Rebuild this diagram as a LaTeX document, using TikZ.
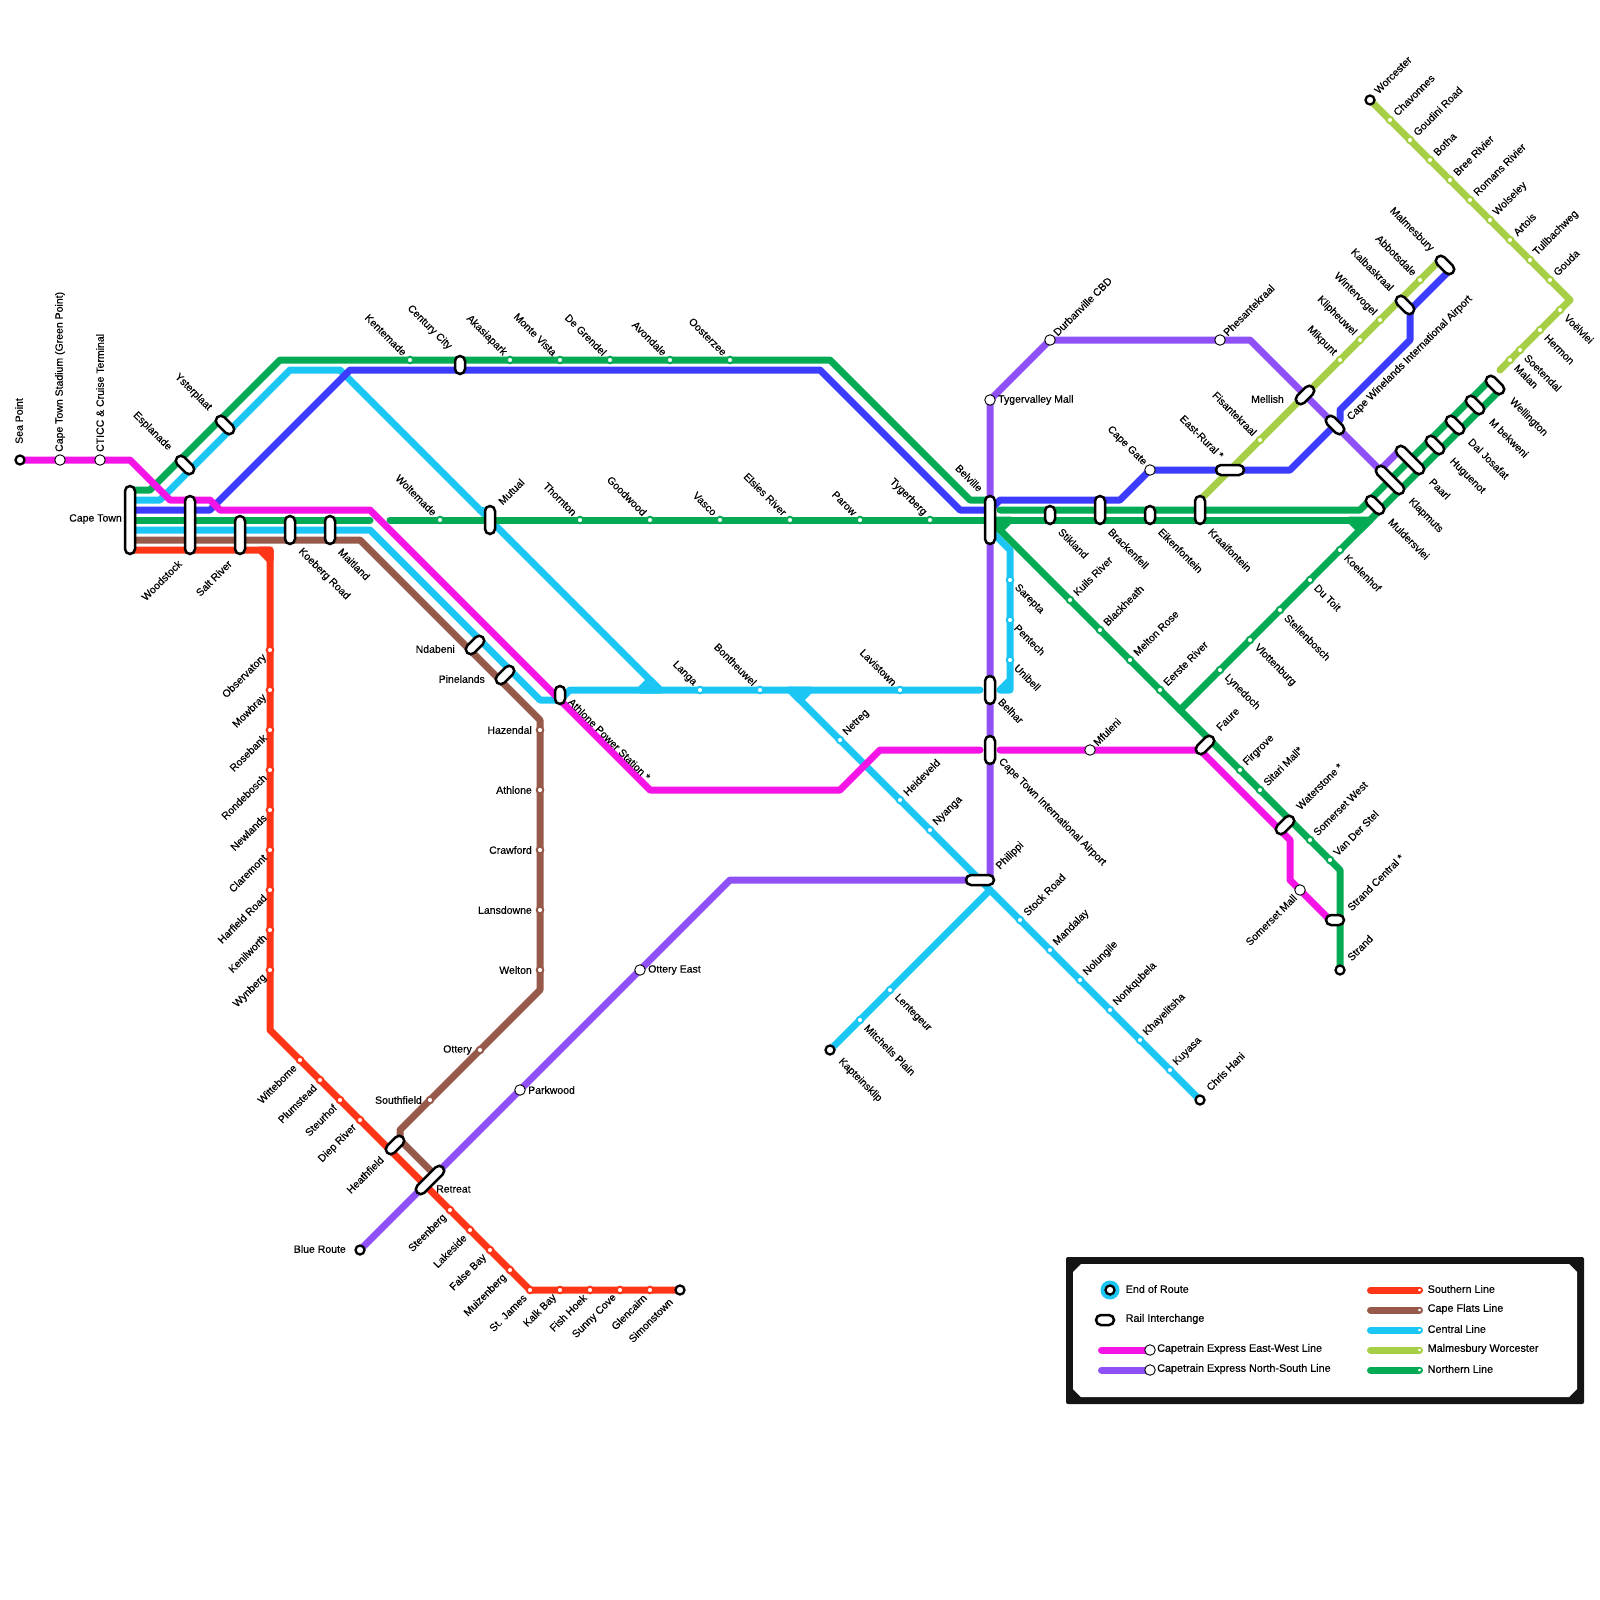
\documentclass[tikz,border=0pt]{standalone}
\usepackage{fontspec}
\usepackage{xcolor}
\usetikzlibrary{backgrounds, shapes.misc}
\newfontfamily\stnfont[FakeBold=0.4]{Liberation Sans}
\definecolor{eastwest}{HTML}{F514E6}
\definecolor{northsouth}{HTML}{8F50F5}
\definecolor{southern}{HTML}{FF3518}
\definecolor{capeflats}{HTML}{96594A}
\definecolor{central}{HTML}{1BC6F5}
\definecolor{malmesbury}{HTML}{A6CF45}
\definecolor{northern}{HTML}{04AB54}
\definecolor{capeblue}{HTML}{3C3CFF}
\tikzset{
  rail/.style={line width=7, line cap=round, line join=round, draw=#1},
  fork/.style={line width=7, line join=round, draw=#1, fill=#1},
  halt/.style={circle, draw=#1, fill=white, line width=2, minimum size=6.5, inner sep=0},
  bigstop/.style={circle, draw=black, fill=white, line width=0.9, minimum size=10.5, inner sep=0},
  endstop/.style={circle, draw=black, fill=white, line width=2.3, minimum size=9, inner sep=0},
  xchg/.style={rounded rectangle, draw=black, fill=white, line width=2.5, minimum height=10, minimum width=#1, inner sep=0},
  lab/.style={font=\stnfont\fontsize{10.5}{13}\selectfont, inner sep=0},
  legtext/.style={font=\stnfont\fontsize{10.8}{12}\selectfont, inner sep=0, anchor=west},
  rne/.style={lab, rotate=45, anchor=west},
  rse/.style={lab, rotate=-45, anchor=west},
  rnw/.style={lab, rotate=-45, anchor=east},
  rsw/.style={lab, rotate=45, anchor=east},
  re/.style={lab, anchor=west},
  rw/.style={lab, anchor=east},
  rn/.style={lab, rotate=90, anchor=west},
  labne/.style={xshift=5, yshift=6, rne},
  labse/.style={xshift=6, yshift=-6, rse},
  labnw/.style={xshift=-5, yshift=6, rnw},
  labsw/.style={xshift=-5, yshift=-6, rsw},
  labe/.style={xshift=8, re},
  labw/.style={xshift=-8, rw},
  labn/.style={yshift=8, rn}
}
\begin{document}
\begin{tikzpicture}[x=1pt, y=-1pt]
    \useasboundingbox (0,0) rectangle (1600,1600);

    % Southern Line
    \foreach \n/\x/\y/\s/\t in {observatory/270/650/labsw/Observatory, mowbray/270/690/labsw/Mowbray, rosebank/270/730/labsw/Rosebank, rondebosch/270/770/labsw/Rondebosch, newlands/270/810/labsw/Newlands, claremont/270/850/labsw/Claremont, harfield/270/890/labsw/Harfield Road, kenilworth/270/930/labsw/Kenilworth, wynberg/270/970/labsw/Wynberg, wittebome/300/1060/labsw/Wittebome, plumstead/320/1080/labsw/Plumstead, steurhof/340/1100/labsw/Steurhof, dieprivier/360/1120/labsw/Diep River, steenberg/450/1210/labsw/Steenberg, lakeside/470/1230/labsw/Lakeside, falsebay/490/1250/labsw/False Bay, muizenberg/510/1270/labsw/Muizenberg, stjames/530/1290/labsw/St. James, kalkbay/560/1290/labsw/Kalk Bay, fishhoek/590/1290/labsw/Fish Hoek, sunnycove/620/1290/labsw/Sunny Cove, glencairn/650/1290/labsw/Glencairn}
        {\node[halt=southern] (\n) at (\x,\y) {}; \node[\s] (\n-t) at (\n.center) {\t};}

    % Cape Flats Line
    \foreach \n/\x/\y/\s/\t in {hazendal/540/730/labw/Hazendal, athlone/540/790/labw/Athlone, crawford/540/850/labw/Crawford, lansdowne/540/910/labw/Lansdowne, welton/540/970/labw/Welton, ottery/480/1050/labw/Ottery, southfield/430/1100/labw/Southfield}
        {\node[halt=capeflats] (\n) at (\x,\y) {}; \node[\s] (\n-t) at (\n.center) {\t};}

    % Central Line
    \foreach \n/\x/\y/\s/\t in {langa/700/690/labnw/Langa, bontheuwel/760/690/labnw/Bontheuwel, lavistown/900/690/labnw/Lavistown, netreg/840/740/labne/Netreg, heideveld/900/800/labne/Heideveld, nyanga/930/830/labne/Nyanga, stockroad/1020/920/labne/Stock Road, mandalay/1050/950/labne/Mandalay, nolungile/1080/980/labne/Nolungile, nonkqubela/1110/1010/labne/Nonkqubela, khayelitsha/1140/1040/labne/Khayelitsha, kuyasa/1170/1070/labne/Kuyasa, lentegeur/890/990/labse/Lentegeur, mitchells/860/1020/labse/Mitchells Plain, sarepta/1010/580/labse/Sarepta, pentech/1010/620/labse/Pentech, unibell/1010/660/labse/Unibell}
        {\node[halt=central] (\n) at (\x,\y) {}; \node[\s] (\n-t) at (\n.center) {\t};}

    % Northern Line
    \foreach \n/\x/\y/\s/\t in {kentemade/410/360/labnw/Kentemade, akasiapark/510/360/labnw/Akasiapark, montevista/560/360/labnw/Monte Vista, degrendel/610/360/labnw/De Grendel, avondale/670/360/labnw/Avondale, oosterzee/730/360/labnw/Oosterzee, woltemade/440/520/labnw/Woltemade, thornton/580/520/labnw/Thornton, goodwood/650/520/labnw/Goodwood, vasco/720/520/labnw/Vasco, elsies/790/520/labnw/Elsies River, parow/860/520/labnw/Parow, tygerberg/930/520/labnw/Tygerberg, kuilsriver/1070/600/labne/Kuils River, blackheath/1100/630/labne/Blackheath, meltonrose/1130/660/labne/Melton Rose, eersteriver/1160/690/labne/Eerste River, firgrove/1240/770/labne/Firgrove, sitarimall/1260/790/labne/Sitari Mall*, somersetwest/1310/840/labne/Somerset West, vanderstel/1330/860/labne/Van Der Stel, lynedoch/1220/670/labse/Lynedoch, vlottenburg/1250/640/labse/Vlottenburg, stellenbosch/1280/610/labse/Stellenbosch, dutoit/1310/580/labse/Du Toit, koelenhof/1340/550/labse/Koelenhof}
        {\node[halt=northern] (\n) at (\x,\y) {}; \node[\s] (\n-t) at (\n.center) {\t};}

    % Malmesbury Worcester
    \foreach \n/\x/\y/\s/\t in {chavonnes/1390/120/labne/Chavonnes, goudini/1410/140/labne/Goudini Road, botha/1430/160/labne/Botha, breerivier/1450/180/labne/Bree Rivier, romans/1470/200/labne/Romans Rivier, wolseley/1490/220/labne/Wolseley, artois/1510/240/labne/Artois, tulbagh/1530/260/labne/Tullbachweg, gouda/1550/280/labne/Gouda, voelvlei/1560/310/labse/Voëlvlei, hermon/1540/330/labse/Hermon, soetendal/1520/350/labse/Soetendal, malan/1510/360/labse/Malan, fisantekraal/1260/440/labnw/Fisantekraal, mikpunt/1340/360/labnw/Mikpunt, klipheuwel/1360/340/labnw/Klipheuwel, wintervogel/1380/320/labnw/Wintervogel, abbotsdale/1420/280/labnw/Abbotsdale}
        {\node[halt=malmesbury] (\n) at (\x,\y) {}; \node[\s] (\n-t) at (\n.center) {\t};}

    % large stations
    \foreach \n/\x/\y/\s/\t in {stadium/60/460/labn/Cape Town Stadium (Green Point), cticc/100/460/labn/CTICC \& Cruise Terminal, capegate/1150/470/labnw/Cape Gate, tygervalley/990/400/labe/Tygervalley Mall, durbanville/1050/340/labne/Durbanville CBD, phesantekraal/1220/340/labne/Phesantekraal, otteryeast/640/970/labe/Ottery East, parkwood/520/1090/labe/Parkwood, mfuleni/1090/750/labne/Mfuleni, somersetmall/1300/890/labsw/Somerset Mall}
        {\node[bigstop] (\n) at (\x,\y) {}; \node[\s] (\n-t) at (\n.center) {\t};}

    % end of route
    \foreach \n/\x/\y/\lx/\ly/\s/\t in {seapoint/20/460/19/444/rn/Sea Point, simonstown/680/1290/671/1300/rsw/Simonstown, blueroute/360/1250/346/1249/rw/Blue Route, kapteinsklip/830/1050/840/1060/rse/Kapteinsklip, chrishani/1200/1100/1208/1089/rne/Chris Hani, strand/1340/970/1349/959/rne/Strand, worcester/1370/100/1376/92/rne/Worcester}
        {\node[endstop] (\n) at (\x,\y) {}; \node[\s] (\n-t) at (\lx,\ly) {\t};}

    % interchanges
    \foreach \n/\x/\y/\r/\l/\lx/\ly/\s/\t in {capetown/130/520/90/68/122/519/rw/Cape Town, woodstock/190/525/90/58/180/562/rsw/Woodstock, saltriver/240/535/90/38/230/562/rsw/Salt River, koebergroad/290/530/90/28/300/550/rse/Koeberg Road, maitland/330/530/90/28/340/550/rse/Maitland, esplanade/185/465/-45/22/170/449/rnw/Esplanade, ysterplaat/225/425/-45/22/210/409/rnw/Ysterplaat, centurycity/460/365/90/18/450/348/rnw/Century City, mutual/490/520/90/28/500/503/rne/Mutual, ndabeni/475/645/45/22/455/649/rw/Ndabeni, pinelands/505/675/45/22/485/679/rw/Pinelands, athlonepower/560/695/90/18/570/700/rse/Athlone Power Station *, belville/990/520/90/48/981/490/rnw/Belville, stikland/1050/515/90/18/1060/530/rse/Stikland, brackenfell/1100/510/90/28/1110/530/rse/Brackenfell, eikenfontein/1150/515/90/18/1160/530/rse/Eikenfontein, kraaifontein/1200/510/90/28/1210/530/rse/Kraaifontein, eastrural/1230/470/0/28/1222/457/rnw/East-Rural *, mellish/1305/395/45/22/1284/399/rw/Mellish, airport/1335/425/-45/22/1349/419/rne/Cape Winelands International Airport, muldersvlei/1375/505/-45/22/1390/520/rse/Muldersvlei, klapmuts/1390/480/-45/36/1410/500/rse/Klapmuts, paarl/1410/460/-45/36/1431/480/rse/Paarl, huguenot/1435/445/-45/22/1451/460/rse/Huguenot, daljosafat/1455/425/-45/22/1470/440/rse/Dal Josafat, mbekweni/1475/405/-45/22/1491/420/rse/M bekweni, wellington/1495/385/-45/22/1511/400/rse/Wellington, malmesburystn/1445/265/-45/22/1432/250/rnw/Malmesbury, kalbaskraal/1405/305/-45/22/1392/289/rnw/Kalbaskraal, faure/1205/745/45/22/1218/729/rne/Faure, waterstone/1285/825/45/22/1298/808/rne/Waterstone *, strandcentral/1335/920/0/18/1349/909/rne/Strand Central *, heathfield/395/1145/45/22/382/1158/rsw/Heathfield, retreat/430/1180/45/36/436/1189/re/Retreat, philippi/980/880/0/28/998/868/rne/Philippi, belhar/990/690/90/28/1000/700/rse/Belhar, ctairport/990/750/90/28/1000/760/rse/Cape Town International Airport}
        {\node[xchg=\l, rotate=\r] (\n) at (\x,\y) {}; \node[\s] (\n-t) at (\lx,\ly) {\t};}

    % points where lines stop or fork away from a station
    \coordinate (southbend) at (270,550);
    \coordinate (northgapw) at (370,520);
    \coordinate (northgape) at (390,520);
    \coordinate (northjoin) at (1370,520);
    \coordinate (faurejoin) at (1180,710);
    \coordinate (malmesend) at (1500,370);
    \coordinate (langafork) at (640,690);
    \coordinate (bontfork) at (810,690);
    \coordinate (eastfork) at (790,690);

    % legend
    \node[circle, fill=central, minimum size=19, inner sep=0] (legcirc) at (1110,1290) {};
    \node[endstop] (legend) at (1110,1290) {};
    \node[legtext] (legend-t) at (1125.5,1289) {End of Route};
    \node[xchg=18] (legx) at (1105,1320) {};
    \node[legtext] (legx-t) at (1125.5,1319) {Rail Interchange};
    \node[bigstop] (legew) at (1150,1350) {};
    \node[legtext] (legew-t) at (1157,1349) {Capetrain Express East-West Line};
    \node[bigstop] (legns) at (1150,1370) {};
    \node[legtext] (legns-t) at (1157,1369) {Capetrain Express North-South Line};
    \coordinate (legewfree) at (1101.5,1350);
    \coordinate (legnsfree) at (1101.5,1370);
    \foreach \c/\y/\t in {southern/1290/Southern Line, capeflats/1310/Cape Flats Line, central/1330/Central Line, malmesbury/1350/Malmesbury Worcester, northern/1370/Northern Line}
        {\node[halt=\c, minimum size=4.5, line width=1.5] (leg\c) at (1419.5,\y) {};
         \node[legtext] (leg\c-t) at (1427.5,\y-1) {\t};}

    \begin{pgfonlayer}{background}
        % frame of the legend
        \fill[black!92, rounded corners=2] (1066,1257) rectangle (1584,1404);
        \fill[white] (1081,1264) -- (1569,1264) -- (1577,1272) -- (1577,1389) -- (1569,1397) -- (1081,1397) -- (1073,1389) -- (1073,1272) -- cycle;
        \draw[rail=eastwest] (legewfree) -- (legew.center);
        \draw[rail=northsouth] (legnsfree) -- (legns.center);
        \foreach \c/\y in {southern/1290, capeflats/1310, central/1330, malmesbury/1350, northern/1370}
            {\coordinate (leg\c-free) at (1370.5,\y);
             \draw[rail=\c] (leg\c-free) -- (leg\c.center);}

        % Southern
        \draw[rail=southern] ([yshift=-30]capetown.center) -- (southbend) -- (270,1030) -- (stjames.center) -- (simonstown.center);
        \draw[fork=southern] ([xshift=-10]southbend) -- (southbend) -- ([yshift=-10]southbend) -- cycle;

        % Cape Flats
        \draw[rail=capeflats] ([yshift=-20]capetown.center) -- (360,540) -- (540,720) -- (540,990) -- (400,1130) -- (400,1140) -- ([yshift=10]retreat.center);

        % Central
        \draw[rail=central] ([yshift=-10]capetown.center) -- (370,530) -- (540,700) -- (560,700) -- (570,690) -- ([xshift=-10]belhar.center);
        \draw[rail=central] ([yshift=20]capetown.center) -- (160,500) -- (290,370) -- (340,370) -- (660,690);
        \draw[rail=central] ([yshift=10]mutual.center) -- ([xshift=-10,yshift=10]mutual.center);
        \draw[fork=central] (langafork) -- ([xshift=10,yshift=10]langafork) -- ([xshift=20]langafork) -- cycle;
        \draw[rail=central] (eastfork) -- (chrishani.center);
        \draw[fork=central] (bontfork) -- ([xshift=-10,yshift=-10]bontfork) -- (eastfork) -- cycle;
        \draw[rail=central] (kapteinsklip.center) -- (990,890);
        \draw[rail=central] ([yshift=-10]belville.center) -- (1010,550) -- (1010,690) -- ([xshift=10]belhar.center) -- (1010,680);

        % Malmesbury Worcester
        \draw[rail=malmesbury] (worcester.center) -- (1570,300) -- (malmesend);
        \draw[rail=malmesbury] ([yshift=10]kraaifontein.center) -- ([xshift=-5,yshift=5]malmesburystn.center);

        % Northern
        \draw[rail=northern] ([yshift=30]capetown.center) -- (150,490) -- (280,360) -- (830,360) -- (970,500) -- ([yshift=20]belville.center);
        \draw[rail=northern] (capetown.center) -- (northgapw);
        \draw[rail=northern] (northgape) -- (northjoin);
        \draw[fork=northern] ([xshift=-20]northjoin) -- ([xshift=-10,yshift=-10]northjoin) -- (northjoin) -- cycle;
        \draw[rail=northern] (belville.center) -- (1340,870) -- (strand.center);
        \draw[fork=northern] ([yshift=0]belville.center) -- ([xshift=10,yshift=-10]belville.center) -- ([xshift=20]belville.center) -- cycle;
        \draw[rail=northern] ([xshift=10,yshift=10]belville.center) -- (1360,510) -- ([xshift=-5,yshift=5]wellington.center);
        \draw[rail=northern] (faurejoin) -- ([xshift=5,yshift=-5]wellington.center);

        % Cape Winelands line
        \draw[rail=capeblue] ([yshift=10]capetown.center) -- (210,510) -- (350,370) -- (820,370) -- (960,510) -- (990,510) -- (1000,500) -- (1120,500) -- (capegate.center) -- (1290,470) -- (1340,420) -- (1340,410) -- (1410,340) -- (1410,310) -- ([xshift=5,yshift=-5]malmesburystn.center);

        % Capetrain Express North-South
        \draw[rail=northsouth] (blueroute.center) -- (730,880) -- (990,880) -- (tygervalley.center) -- (durbanville.center) -- (1250,340) -- (1380,470) -- (1400,450);

        % Capetrain Express East-West
        \draw[rail=eastwest] (seapoint.center) -- (130,460) -- (170,500) -- (210,500) -- (220,510) -- (370,510) -- (650,790) -- (840,790) -- (880,750) -- ([xshift=-10]ctairport.center);
        \draw[rail=eastwest] ([xshift=10]ctairport.center) -- (1200,750) -- (1290,840) -- (1290,880) -- ([xshift=-5]strandcentral.center);
    \end{pgfonlayer}
\end{tikzpicture}
\end{document}
